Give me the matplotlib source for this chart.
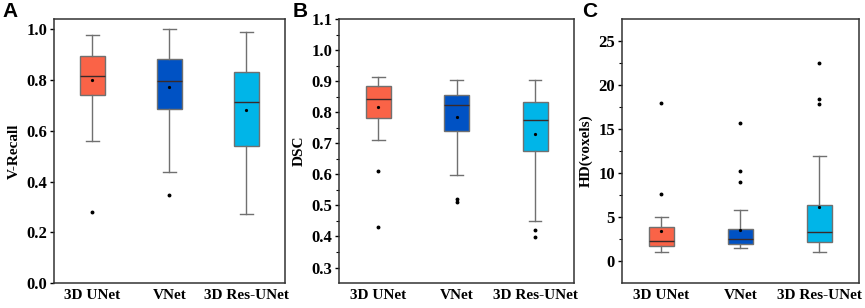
import numpy as np
import matplotlib.pyplot as plt

models = ['3D UNet', 'VNet', '3D Res-UNet']
colors = ['#FA6347', '#0052C4', '#00B5E8']

# V-Recall (panel A)
recall_lo = [0.561, 0.438, 0.271]
recall_q1 = [0.739, 0.687, 0.541]
recall_med = [0.816, 0.796, 0.713]
recall_q3 = [0.895, 0.882, 0.830]
recall_hi = [0.979, 1.000, 0.990]
recall_mean = [0.800, 0.772, 0.682]
recall_fliers = [[0.279], [0.345], []]

# DSC (panel B)
dsc_lo = [0.710, 0.598, 0.450]
dsc_q1 = [0.783, 0.741, 0.675]
dsc_med = [0.843, 0.823, 0.774]
dsc_q3 = [0.884, 0.857, 0.833]
dsc_hi = [0.915, 0.905, 0.903]
dsc_mean = [0.817, 0.785, 0.730]
dsc_fliers = [[0.610, 0.431], [0.521, 0.511], [0.422, 0.398]]

# HD in voxels (panel C)
hd_lo = [1.02, 1.44, 0.98]
hd_q1 = [1.70, 1.89, 2.12]
hd_med = [2.31, 2.50, 3.25]
hd_q3 = [3.90, 3.59, 6.35]
hd_hi = [5.03, 5.75, 11.99]
hd_mean = [3.40, 3.55, 6.16]
hd_fliers = [[18.0, 7.6], [15.7, 10.2, 9.0], [22.5, 18.4, 17.9]]

serif = 'Liberation Serif'


def make_stats(lo, q1, med, q3, hi, mean, fliers):
    stats = []
    for i in range(len(models)):
        stats.append({'whislo': lo[i], 'q1': q1[i], 'med': med[i], 'q3': q3[i],
                      'whishi': hi[i], 'mean': mean[i], 'fliers': fliers[i],
                      'label': models[i]})
    return stats


def draw_panel(ax, stats, ylabel, ylim, yticks, minor=True):
    bp = ax.bxp(stats, positions=[1, 2, 3], widths=0.32, patch_artist=True,
                showmeans=True, showfliers=True,
                boxprops=dict(edgecolor='#707070', linewidth=1.0),
                whiskerprops=dict(color='#707070', linewidth=1.0),
                capprops=dict(color='#707070', linewidth=1.0),
                medianprops=dict(color='#3a2a2a', linewidth=1.0),
                meanprops=dict(marker='o', markerfacecolor='black', markeredgecolor='black', markersize=1.3),
                flierprops=dict(marker='o', markerfacecolor='black', markeredgecolor='black', markersize=1.8))
    for patch, c in zip(bp['boxes'], colors):
        patch.set_facecolor(c)
    ax.set_xlim(0.5, 3.5)
    ax.set_ylim(*ylim)
    ax.set_yticks(yticks)
    if minor:
        ax.set_yticks([(a + b) / 2 for a, b in zip(yticks[:-1], yticks[1:])], minor=True)
    ax.set_xticks([1, 2, 3])
    ax.set_xticklabels(models, fontfamily=serif, fontweight='bold', fontsize=11)
    for lab in ax.get_yticklabels():
        lab.set_fontfamily(serif)
        lab.set_fontweight('bold')
        lab.set_fontsize(12)
    ax.set_ylabel(ylabel, fontfamily=serif, fontweight='bold', fontsize=11, labelpad=4)
    ax.tick_params(axis='both', direction='out', length=3, width=1, pad=2)
    ax.tick_params(axis='y', which='minor', direction='out', length=2, width=0.8)
    ax.tick_params(axis='x', length=0, pad=4)
    for s in ax.spines.values():
        s.set_linewidth(1.1)
        s.set_color('#333333')


fig = plt.figure(figsize=(8.65, 3.08), dpi=100)
axA = fig.add_axes([0.0624, 0.081, 0.267, 0.857])
axB = fig.add_axes([0.392, 0.081, 0.272, 0.857])
axC = fig.add_axes([0.719, 0.081, 0.274, 0.857])

draw_panel(axA, make_stats(recall_lo, recall_q1, recall_med, recall_q3, recall_hi, recall_mean, recall_fliers),
           'V-Recall', (0.0, 1.04), [0.0, 0.2, 0.4, 0.6, 0.8, 1.0], minor=False)
draw_panel(axB, make_stats(dsc_lo, dsc_q1, dsc_med, dsc_q3, dsc_hi, dsc_mean, dsc_fliers),
           'DSC', (0.25, 1.1), [0.3, 0.4, 0.5, 0.6, 0.7, 0.8, 0.9, 1.0, 1.1])
draw_panel(axC, make_stats(hd_lo, hd_q1, hd_med, hd_q3, hd_hi, hd_mean, hd_fliers),
           'HD(voxels)', (-2.5, 27.5), [0, 5, 10, 15, 20, 25])

for x, letter in [(0.003, 'A'), (0.338, 'B'), (0.673, 'C')]:
    fig.text(x, 0.995, letter, fontsize=15, fontweight='bold', fontfamily='Liberation Sans',
             va='top', ha='left')

fig.savefig('out.png', dpi=100)
